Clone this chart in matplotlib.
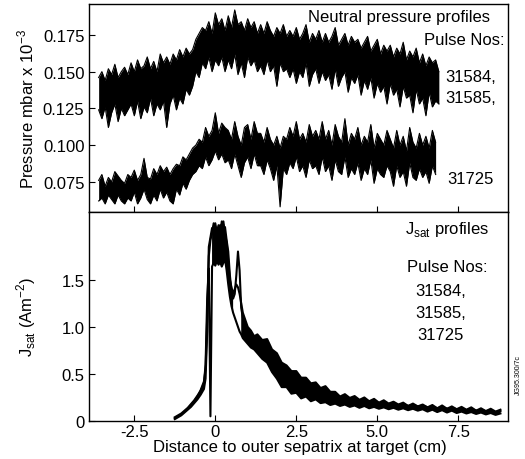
import numpy as np
import matplotlib
matplotlib.use("Agg")
import matplotlib.pyplot as plt

plt.rcParams['font.family'] = ['Liberation Sans', 'DejaVu Sans']

# ---------------- Neutral pressure (axis units: mbar x 1e-3; lists in units of 0.001) ----------
P_X0 = -3.6
P_STEP = 0.1
# envelope (upper / lower edge) of the noisy band formed by pulses 31584 & 31585
p_3158x_max = [146,150,144,152,148,155,146,150,153,148,
               156,150,158,152,154,160,152,157,150,162,
               156,160,155,162,158,165,160,166,162,165,
               172,176,180,178,184,176,190,182,186,178,
               188,180,192,182,184,178,186,180,184,176,
               182,176,184,178,174,180,176,182,174,178,
               174,180,172,176,182,170,176,172,178,170,
               176,170,174,180,168,172,176,168,174,170,
               172,166,170,174,164,168,172,162,168,164,
               168,160,166,162,170,158,164,160,166,156,
               162,154,160,156,158,150]
p_3158x_min = [124,118,126,112,122,128,116,125,120,124,
               128,120,130,118,126,122,132,120,128,124,
               130,112,128,134,124,132,128,138,134,140,
               150,146,156,152,160,150,158,154,160,150,
               158,152,162,148,156,146,160,154,158,150,
               154,148,158,150,154,140,156,150,152,146,
               152,142,150,146,156,140,148,152,142,150,
               144,148,138,152,140,146,150,136,146,142,
               148,134,144,138,146,132,142,136,140,128,
               142,134,138,126,140,132,134,122,138,128,
               132,120,136,126,130,128]
# envelope of the noisy band of pulse 31725
p_31725_max = [76,80,72,78,75,82,79,76,74,80,
               78,83,76,80,91,78,77,84,80,86,
               82,85,80,84,87,86,92,90,94,98,
               100,104,102,112,106,110,122,108,115,112,
               110,104,116,106,100,112,114,104,116,108,
               108,102,112,104,100,106,98,106,104,112,
               106,116,104,108,102,114,106,110,104,116,
               104,110,100,114,106,102,118,100,108,104,
               112,100,106,102,114,98,108,104,100,110,
               104,98,110,100,106,96,112,102,98,108,
               100,106,98,110,102]
p_31725_min = [62,64,60,66,63,60,66,62,60,64,
               62,68,60,64,70,63,60,66,62,70,
               64,68,62,60,70,66,74,70,76,80,
               82,86,84,92,86,90,96,90,94,88,
               90,84,94,86,78,88,92,84,94,86,
               86,80,90,84,76,86,58,84,80,88,
               84,92,82,86,78,90,84,86,80,92,
               82,86,76,90,82,80,92,78,84,80,
               88,76,84,80,90,74,84,80,78,86,
               82,72,86,78,82,72,88,78,76,84,
               78,82,74,86,80]

# ---------------- Jsat traces -------------
j_x = np.concatenate([np.round(np.arange(-1.25, -0.30, 0.10), 3),
                      np.round(np.arange(-0.30, 1.201, 0.05), 3),
                      np.round(np.arange(1.30, 8.801, 0.15), 3)])
j_31584 = [0.03,0.05,0.07,0.10,0.13,0.17,0.21,0.26,0.33,0.42,
           0.55,1.10,1.85,1.95,2.05,1.98,2.10,2.00,2.08,1.97,
           2.12,2.02,2.06,1.92,1.80,1.55,1.38,1.30,1.35,1.55,
           1.80,1.60,1.20,1.10,1.05,1.02,0.98,0.95,0.93,0.90,0.88,
           0.88,0.82,0.83,0.70,0.66,0.56,0.54,0.45,0.45,0.38,
           0.39,0.34,0.35,0.30,0.31,0.27,0.29,0.25,0.27,0.23,
           0.24,0.21,0.23,0.20,0.215,0.19,0.20,0.18,0.19,0.17,
           0.18,0.16,0.17,0.155,0.165,0.145,0.155,0.135,0.15,0.13,
           0.14,0.125,0.135,0.115,0.13,0.11,0.12,0.105,0.115,0.095,0.105]
j_31585 = [0.02,0.04,0.06,0.09,0.12,0.15,0.19,0.23,0.28,0.34,
           0.45,0.95,1.75,1.92,2.00,2.10,1.95,2.05,1.96,2.08,
           2.00,2.12,1.98,1.90,1.70,1.50,1.42,1.35,1.40,1.45,
           1.42,1.35,1.25,1.15,1.10,1.05,1.00,0.98,0.96,0.93,0.90,
           0.92,0.86,0.87,0.76,0.72,0.62,0.59,0.53,0.53,0.46,
           0.46,0.40,0.41,0.35,0.37,0.31,0.31,0.26,0.285,0.245,
           0.265,0.225,0.25,0.21,0.235,0.195,0.22,0.185,0.205,0.175,
           0.195,0.16,0.185,0.155,0.175,0.145,0.17,0.135,0.165,0.13,
           0.155,0.125,0.15,0.12,0.145,0.11,0.135,0.105,0.13,0.10,0.12]
j_31725 = [0.04,0.06,0.08,0.11,0.14,0.18,0.22,0.27,0.32,0.40,
           0.60,1.30,1.62,0.05,1.64,1.68,1.65,1.70,1.66,1.69,
           1.64,1.68,1.72,1.60,1.45,1.32,1.22,1.15,1.10,1.05,
           1.00,0.95,0.92,0.88,0.86,0.84,0.82,0.80,0.78,0.77,0.76,
           0.72,0.66,0.62,0.52,0.45,0.36,0.36,0.29,0.30,0.24,
           0.26,0.21,0.23,0.19,0.20,0.17,0.185,0.16,0.175,0.15,
           0.165,0.14,0.16,0.135,0.15,0.13,0.145,0.125,0.14,0.12,
           0.135,0.115,0.13,0.11,0.125,0.10,0.12,0.095,0.115,0.09,
           0.11,0.085,0.10,0.08,0.095,0.075,0.09,0.07,0.085,0.065,0.08]

x_ticks = [-2.5, 0, 2.5, 5.0, 7.5]
x_tick_labels = ['-2.5', '0', '2.5', '5.0', '7.5']
p_ticks = [0.075, 0.100, 0.125, 0.150, 0.175]
p_tick_labels = ['0.075', '0.100', '0.125', '0.150', '0.175']
j_ticks = [0, 0.5, 1.0, 1.5]
j_tick_labels = ['0', '0.5', '1.0', '1.5']

fig = plt.figure(figsize=(5.25, 4.6), dpi=100)
ax1 = fig.add_axes([0.170, 0.537, 0.798, 0.452])
ax2 = fig.add_axes([0.170, 0.0826, 0.798, 0.4544])

def px(vals):
    return P_X0 + P_STEP * np.arange(len(vals))

for hi, lo in ((p_3158x_max, p_3158x_min), (p_31725_max, p_31725_min)):
    x = px(hi)
    hi_v = np.array(hi) * 0.001
    lo_v = np.array(lo) * 0.001
    ax1.fill_between(x, lo_v, hi_v, color='black', lw=0)
    ax1.plot(x, hi_v, color='black', lw=0.8)
    ax1.plot(x, lo_v, color='black', lw=0.8)

J = np.array([j_31584, j_31585, j_31725])
for vals in J:
    ax2.plot(j_x, vals, color='black', lw=1.5)
# fill the band between the traces, leaving the drop-out and the side spike open
band_mask = ~(((j_x > -0.2) & (j_x < -0.1)) |
              ((j_x > 0.57) & (j_x < 0.78)))
ax2.fill_between(j_x, J.min(axis=0), J.max(axis=0), where=band_mask,
                 color='black', lw=0)

xlim = (-3.89, 9.04)
fs = 12
for ax in (ax1, ax2):
    ax.set_xlim(*xlim)
    ax.set_xticks(x_ticks)
    ax.tick_params(direction='in', length=4, width=0.8, labelsize=fs)
    for s in ax.spines.values():
        s.set_linewidth(1.0)

ax1.set_ylim(0.0545, 0.196)
ax1.set_yticks(p_ticks)
ax1.set_yticklabels(p_tick_labels)
ax1.set_xticklabels([])

ax2.set_ylim(0, 2.22)
ax2.set_yticks(j_ticks)
ax2.set_yticklabels(j_tick_labels)
ax2.set_xticklabels(x_tick_labels)
ax2.tick_params(axis='x', pad=2)

ax1.text(0.957, 0.94, 'Neutral pressure profiles', transform=ax1.transAxes,
         ha='right', va='center', fontsize=fs)
ax1.text(0.99, 0.83, 'Pulse Nos:', transform=ax1.transAxes,
         ha='right', va='center', fontsize=fs)
ax1.text(0.85, 0.654, '31584,', transform=ax1.transAxes, ha='left', va='center', fontsize=fs)
ax1.text(0.85, 0.553, '31585,', transform=ax1.transAxes, ha='left', va='center', fontsize=fs)
ax1.text(0.854, 0.159, '31725', transform=ax1.transAxes, ha='left', va='center', fontsize=fs)

ax2.text(0.854, 0.919, r'J$_{\mathregular{sat}}$ profiles', transform=ax2.transAxes,
         ha='center', va='center', fontsize=fs)
ax2.text(0.854, 0.737, 'Pulse Nos:', transform=ax2.transAxes, ha='center', va='center', fontsize=fs)
ax2.text(0.838, 0.622, '31584,', transform=ax2.transAxes, ha='center', va='center', fontsize=fs)
ax2.text(0.838, 0.521, '31585,', transform=ax2.transAxes, ha='center', va='center', fontsize=fs)
ax2.text(0.838, 0.416, '31725', transform=ax2.transAxes, ha='center', va='center', fontsize=fs)

fig.text(0.050, 0.763, r'Pressure mbar x 10$^{\mathregular{-3}}$', rotation=90,
         ha='center', va='center', fontsize=fs)
fig.text(0.050, 0.311, r'J$_{\mathregular{sat}}$ (Am$^{\mathregular{-2}}$)', rotation=90,
         ha='center', va='center', fontsize=fs)
fig.text(0.571, 0.028, 'Distance to outer sepatrix at target (cm)',
         ha='center', va='center', fontsize=fs)
fig.text(0.987, 0.185, 'JG95.300/7c', rotation=90, ha='center', va='center', fontsize=5)

fig.savefig('out.png', dpi=100)
